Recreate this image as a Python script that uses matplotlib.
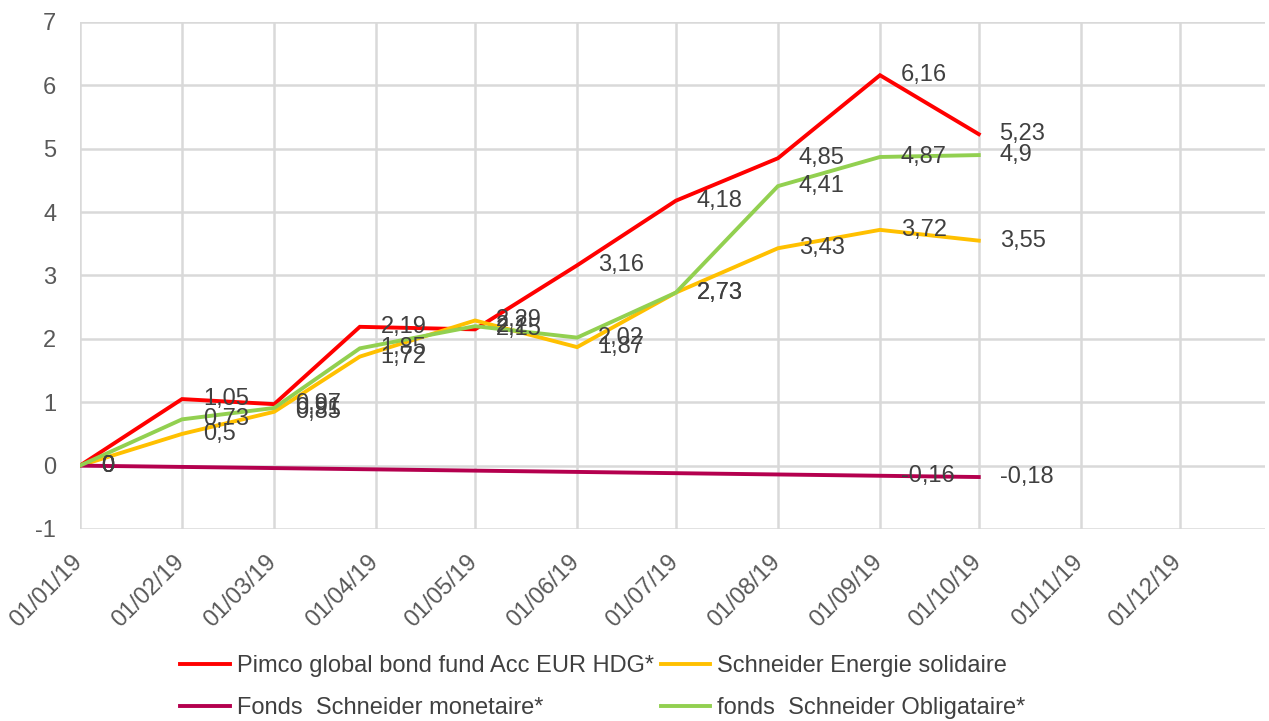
import matplotlib
matplotlib.use("Agg")
import matplotlib.pyplot as plt
import matplotlib.dates as mdates
import matplotlib.transforms as mtransforms
import numpy as np
import pandas as pd

plt.rcParams['font.family'] = ['Liberation Sans', 'DejaVu Sans']
plt.rcParams['axes.unicode_minus'] = False

# dates des valeurs liquidatives
dates = pd.to_datetime(["2019-01-01", "2019-02-01", "2019-03-01", "2019-03-27", "2019-05-01",
                        "2019-06-01", "2019-07-01", "2019-08-01", "2019-09-01", "2019-10-01"])
dates_mon = pd.to_datetime(["2019-01-01", "2019-09-01", "2019-10-01"])

pimco = [0, 1.05, 0.97, 2.19, 2.15, 3.16, 4.18, 4.85, 6.16, 5.23]
energie = [0, 0.5, 0.85, 1.72, 2.29, 1.87, 2.73, 3.43, 3.72, 3.55]
obligataire = [0, 0.73, 0.91, 1.85, 2.20, 2.02, 2.73, 4.41, 4.87, 4.9]
monetaire = [0, -0.16, -0.18]

mois = pd.date_range("2019-01-01", "2019-12-01", freq="MS")

series = [
    ("Pimco global bond fund Acc EUR HDG*", dates, pimco, "#ff0000"),
    ("Schneider Energie solidaire", dates, energie, "#ffc000"),
    ("Fonds  Schneider monetaire*", dates_mon, monetaire, "#b4004e"),
    ("fonds  Schneider Obligataire*", dates, obligataire, "#92d050"),
]


def fmt(v):
    s = ("%.2f" % v).rstrip("0").rstrip(".")
    return s.replace(".", ",")


def main():
    fig = plt.figure(figsize=(12.69, 7.21), dpi=100)
    ax = fig.add_axes([0.063, 0.2663, 0.934, 0.7032])

    handles = {}
    for nom, x, y, c in series:
        (l,) = ax.plot(x, y, color=c, lw=2.8, label=nom, zorder=3,
                       solid_joinstyle="miter")
        handles[nom] = l
        for xi, yi in zip(x, y):
            ax.annotate(fmt(yi), (xi, yi), xytext=(15, 0), textcoords="offset points",
                        ha="left", va="center", fontsize=17, color="#404040", zorder=4)

    ax.set_ylim(-1, 7)
    ax.set_yticks(range(-1, 8))
    ax.set_xlim(pd.Timestamp("2019-01-01"), pd.Timestamp("2019-12-27"))
    ax.set_xticks(mois)
    ax.xaxis.set_major_formatter(mdates.DateFormatter("%d/%m/%y"))

    ax.grid(True, color="#d9d9d9", lw=1.8, zorder=0)
    for s in ax.spines.values():
        s.set_visible(False)
    ax.tick_params(length=0, labelsize=17, labelcolor="#595959")
    ax.tick_params(axis="y", pad=17)
    ax.tick_params(axis="x", pad=10)

    # etiquettes de dates : decalees vers la gauche et le bas
    decal = mtransforms.ScaledTranslation(-0.09, -0.08, fig.dpi_scale_trans)
    for t in ax.get_xticklabels():
        t.set_rotation(45)
        t.set_ha("right")
        t.set_rotation_mode("anchor")
        t.set_transform(t.get_transform() + decal)

    # ordre colonne par colonne pour avoir Pimco / Energie sur la 1re ligne
    ordre = [series[0][0], series[2][0], series[1][0], series[3][0]]
    fig.legend([handles[n] for n in ordre], ordre, loc="center", ncol=2,
               bbox_to_anchor=(0.475, 0.047), frameon=False, fontsize=17,
               handlelength=2.1, handletextpad=0.3, columnspacing=0.3,
               labelspacing=0.85, labelcolor="#404040")

    fig.savefig("out.png", dpi=100)


if __name__ == "__main__":
    main()
